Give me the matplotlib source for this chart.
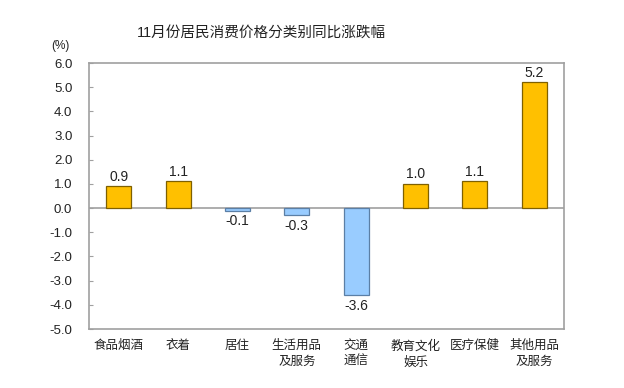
import matplotlib
matplotlib.use("Agg")
import matplotlib.pyplot as plt
import numpy as np

categories = ["食品烟酒", "衣着", "居住", "生活用品\n及服务", "交通\n通信",
              "教育文化\n娱乐", "医疗保健", "其他用品\n及服务"]
values = [0.9, 1.1, -0.1, -0.3, -3.6, 1.0, 1.1, 5.2]
yticks = [6.0, 5.0, 4.0, 3.0, 2.0, 1.0, 0.0, -1.0, -2.0, -3.0, -4.0, -5.0]

plt.rcParams['font.family'] = ['Liberation Sans', 'Noto Sans CJK SC', 'DejaVu Sans']

fig = plt.figure(figsize=(6.24, 3.88), dpi=100)
ax = fig.add_axes([89/624, 1 - 329/388, (564-89)/624, (329-63)/388])

x = np.arange(len(values))
colors = ["#FFC000" if v >= 0 else "#99CCFF" for v in values]
edges = ["#7F6000" if v >= 0 else "#5B7FA6" for v in values]
ax.bar(x, values, width=0.42, color=colors, edgecolor=edges, linewidth=0.9, zorder=3)

for xi, v in zip(x, values):
    if v >= 0:
        ax.text(xi, v + 0.1, f"{v:.1f}", ha="center", va="bottom", fontsize=10, color="#222222")
    else:
        ax.text(xi, v - 0.15, f"{v:.1f}", ha="center", va="top", fontsize=10, color="#222222")

ax.axhline(0, color="#A0A0A0", linewidth=1.2, zorder=2)
ax.set_xlim(-0.5, len(values) - 0.5)
ax.set_ylim(-5, 6)
ax.set_yticks(yticks)
ax.set_yticklabels([f"{t:.1f}" for t in yticks], fontsize=9.5, color="#222222")
ax.set_xticks(x)
ax.set_xticklabels(categories, fontsize=9, color="#222222", linespacing=1.45)
ax.tick_params(axis="y", direction="in", length=3, color="#A0A0A0", pad=12)
ax.tick_params(axis="x", length=0, pad=8)
for s in ax.spines.values():
    s.set_color("#A0A0A0")
    s.set_linewidth(1.2)

fig.text(261/624, 1 - 33/388, "11月份居民消费价格分类别同比涨跌幅", ha="center", va="center",
         fontsize=10.5, color="#222222")
fig.text(60/624, 1 - 46/388, "(%)", ha="center", va="center", fontsize=8.5, color="#222222")

fig.savefig("out.png", dpi=100)
